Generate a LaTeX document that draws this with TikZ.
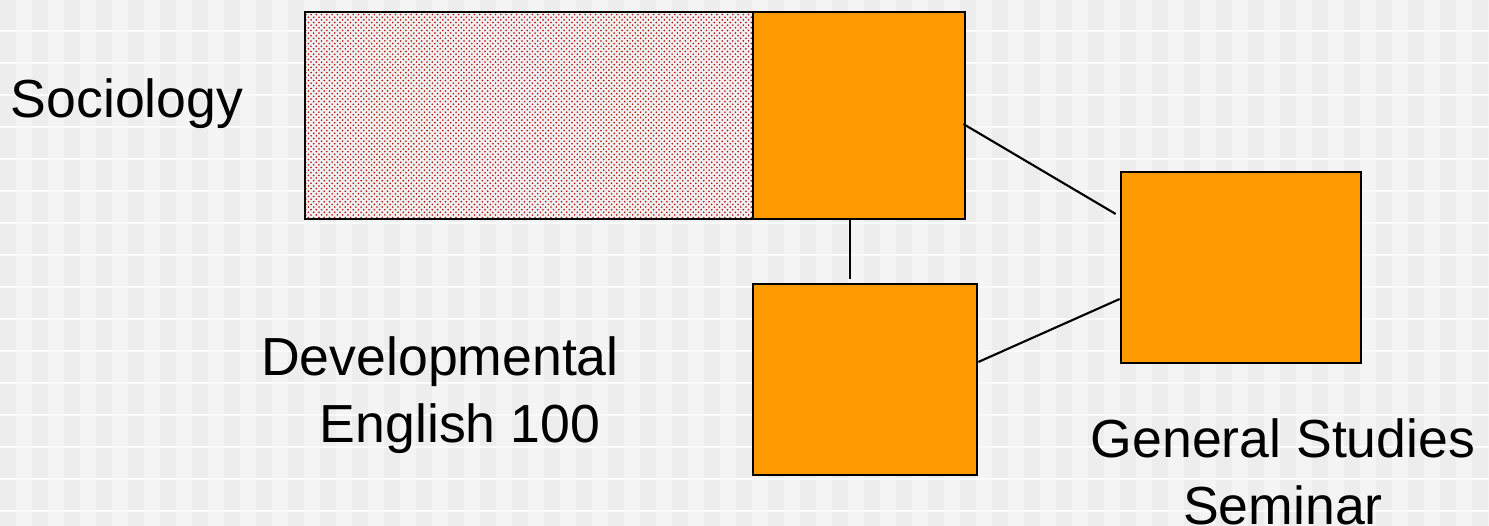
\documentclass[tikz,border=0pt]{standalone}
\usepackage{fontspec}
\setmainfont{Liberation Sans}
\usetikzlibrary{patterns,calc}
\definecolor{bgdark}{HTML}{EDEDED}
\definecolor{bglight}{HTML}{F4F4F4}
\definecolor{course}{HTML}{FF9900}
\tikzstyle{coursebox}=[draw=black,line width=1.5pt,fill=course,inner sep=0pt]
\tikzstyle{link}=[draw=black,line width=1.2pt]
\tikzstyle{label}=[align=center,font=\fontsize{30.5}{38}\selectfont]

\begin{document}
\begin{tikzpicture}
	\useasboundingbox (0,0) rectangle (29.78,10.52);
	\clip (0,0) rectangle (29.78,10.52);
	% background
	\fill[bglight] (0,0) rectangle (29.78,10.52);
	\foreach \x in {0,0.64,...,29.78}
	  \fill[bgdark] (\x,0) rectangle ++(0.32,10.52);
	\foreach \y in {0.3,0.94,...,10.52}
	  \draw[white!60!bglight,line width=0.6pt] (0,\y) -- (29.78,\y);
	% the dotted bar behind the first course
	\fill[gray!12] (6.1,6.14) rectangle (18.1,10.28);
	\fill[pattern=crosshatch dots,pattern color=red!70!black] (6.1,6.14) rectangle (18.1,10.28);
	\draw[line width=1.5pt] (6.1,6.14) rectangle (18.1,10.28);
	% courses
	\node[coursebox,minimum width=4.24cm,minimum height=4.14cm] (soc) at (17.18,8.21) {};
	\node[coursebox,minimum width=4.48cm,minimum height=3.82cm] (eng) at (17.3,2.93) {};
	\node[coursebox,minimum width=4.8cm,minimum height=3.82cm] (gss) at (24.82,5.17) {};
	\coordinate (gap) at (17.0,4.94);
	% links
	\draw[link] (soc.south -| gap) -- (gap);
	\draw[link] ($(soc.east)+(-0.06,-0.17)$) -- ($(gss.west)+(-0.08,1.07)$);
	\draw[link] ($(eng.east)+(0,0.35)$) -- ($(gss.west)+(0,-0.63)$);
	% labels
	\node[label] (socl) at (2.54,8.44) {Sociology};
	\node[label] (engl) at (8.8,2.62) {Developmental\\\hspace*{0.8cm}English 100};
	\node[label] (gssl) at (25.66,1.08) {General Studies\\Seminar};
\end{tikzpicture}
\end{document}
